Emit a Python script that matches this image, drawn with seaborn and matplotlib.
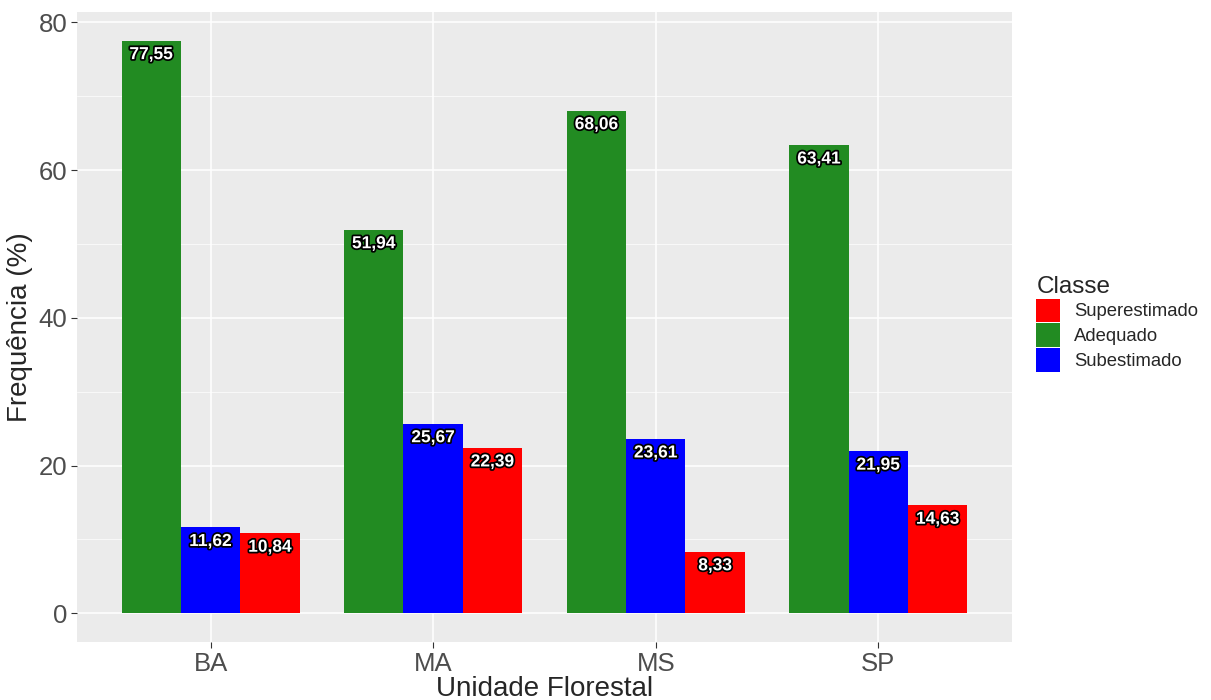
import numpy as np
import pandas as pd
import seaborn as sns
import matplotlib.pyplot as plt
import matplotlib.patheffects as pe
from matplotlib.patches import Patch
from matplotlib.ticker import MultipleLocator

unidades = ["BA", "MA", "MS", "SP"]
adequado = [77.55, 51.94, 68.06, 63.41]
subestimado = [11.62, 25.67, 23.61, 21.95]
superestimado = [10.84, 22.39, 8.33, 14.63]

classes = ["Adequado", "Subestimado", "Superestimado"]
cores = {"Superestimado": "#FF0000", "Adequado": "#228B22", "Subestimado": "#0000FF"}
legenda_ordem = ["Superestimado", "Adequado", "Subestimado"]

df = pd.DataFrame({
    "unidade": unidades * 3,
    "classe": ["Adequado"] * 4 + ["Subestimado"] * 4 + ["Superestimado"] * 4,
    "freq": adequado + subestimado + superestimado,
})

sns.set_style("darkgrid", {"axes.facecolor": "#EBEBEB", "grid.color": "white"})
plt.rcParams["font.family"] = ["Liberation Sans", "DejaVu Sans"]

fig = plt.figure(figsize=(12.11, 7), dpi=100)
ax = fig.add_axes([0.0636, 0.083, 0.772, 0.9])

sns.barplot(data=df, x="unidade", y="freq", hue="classe", hue_order=classes,
            palette=cores, width=0.8, saturation=1, errorbar=None,
            edgecolor="none", linewidth=0, ax=ax, legend=False)

# rotulos brancos com contorno preto logo abaixo do topo de cada barra
for cont in ax.containers:
    for bar in cont:
        h = bar.get_height()
        ax.text(bar.get_x() + bar.get_width() / 2, h - 1.9,
                f"{h:.2f}".replace(".", ","), ha="center", va="center",
                color="white", fontsize=12.5, fontweight="bold",
                path_effects=[pe.withStroke(linewidth=2.5, foreground="black")])

ax.set_xlim(-0.6, 3.6)
ax.set_ylim(-3.88, 81.43)
ax.yaxis.set_major_locator(MultipleLocator(20))
ax.yaxis.set_minor_locator(MultipleLocator(10))
ax.grid(which="major", color="white", linewidth=1.1)
ax.grid(which="minor", axis="y", color="white", linewidth=0.5)
ax.set_axisbelow(True)
for s in ax.spines.values():
    s.set_visible(False)

ax.tick_params(axis="both", which="major", labelsize=18.5, labelcolor="#4D4D4D",
               length=4, color="#333333", width=0.8, bottom=True, left=True, pad=3)
ax.tick_params(axis="y", which="minor", length=0)
ax.set_xlabel("Unidade Florestal", fontsize=20, labelpad=0)
ax.set_ylabel("Frequência (%)", fontsize=20, labelpad=4)

handles = [Patch(facecolor=cores[c], edgecolor="none", label=c) for c in legenda_ordem]
leg = fig.legend(handles=handles, title="Classe", loc="upper left",
                 bbox_to_anchor=(0.842, 0.63), frameon=False, fontsize=13.3,
                 title_fontsize=17.5, handlelength=1.3, handleheight=1.6,
                 handletextpad=0.75, labelspacing=0.05)
leg._legend_box.align = "left"

fig.savefig("out.png", dpi=100)
